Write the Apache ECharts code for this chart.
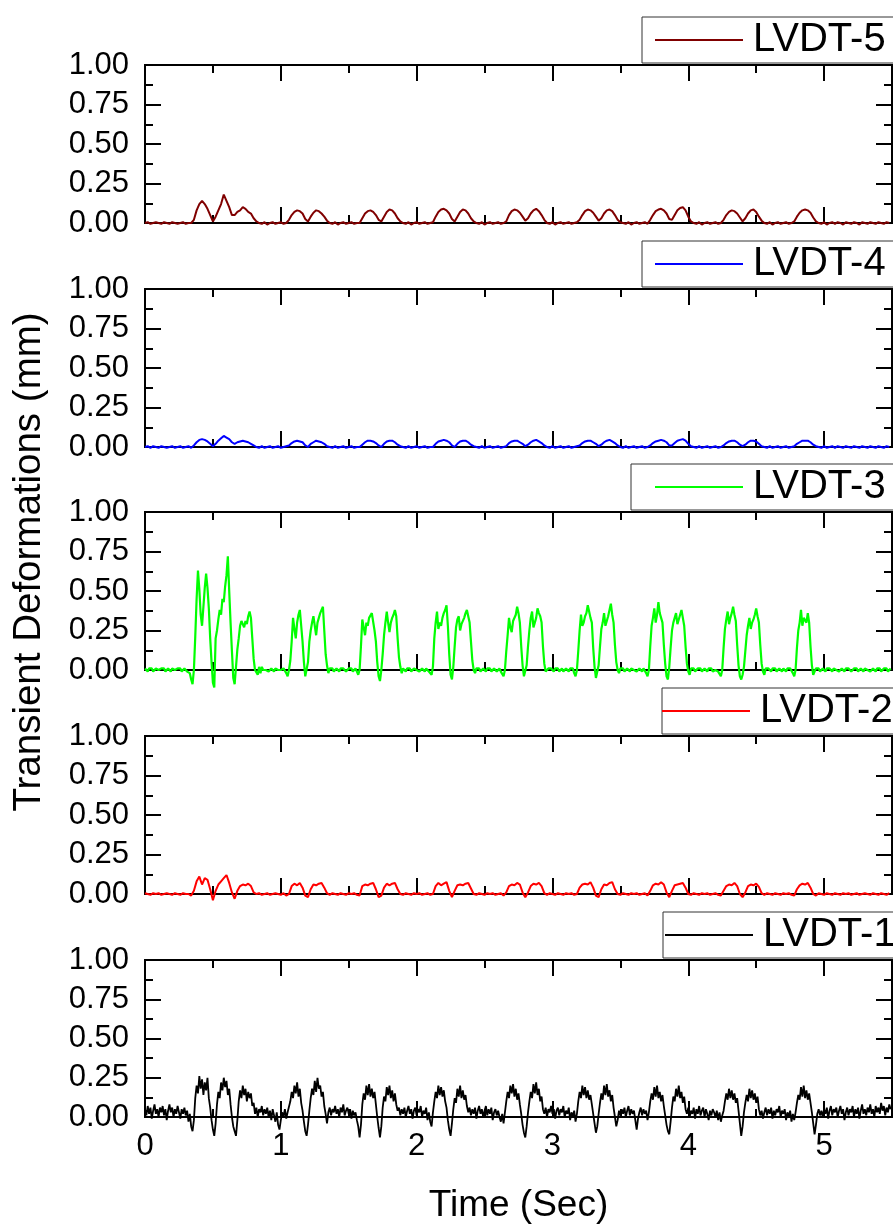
<!DOCTYPE html>
<html>
<head>
<meta charset="utf-8">
<title>Transient Deformations</title>
<script src="https://cdn.jsdelivr.net/npm/echarts@6/dist/echarts.min.js"></script>
<style>
  html, body { margin: 0; padding: 0; background: #fff; }
  #chart { width: 893px; height: 1225px; }
</style>
</head>
<body>
<div id="chart"></div>
<script>
// sampling step (s) of the traced records
const dtFine = 0.01   // LVDT-3, LVDT-1
const dtCoarse = 0.02 // LVDT-5, LVDT-4, LVDT-2

const seriesNames = ['LVDT-5', 'LVDT-4', 'LVDT-3', 'LVDT-2', 'LVDT-1']
const seriesColors = ['#800000', '#0000ff', '#00ff00', '#ff0000', '#000000']
const xMax = 5.5

// LVDT-5 (mm), every 0.02 s
const lvdt5 = [
  0,0.005,-0.005,0,0.005,0,-0.005,0.005,0,-0.005,
  0.005,0,-0.005,0,0.005,-0.005,0,0,0.02,0.08,
  0.12,0.14,0.12,0.09,0.05,0.01,0.04,0.08,0.12,0.18,
  0.14,0.10,0.05,0.05,0.07,0.08,0.10,0.09,0.07,0.06,
  0.03,0.01,0,-0.005,0.005,-0.01,0,0.005,-0.005,0,
  0.005,-0.005,0,0.02,0.05,0.07,0.08,0.075,0.06,0.025,
  0.01,0.04,0.065,0.08,0.075,0.06,0.04,0.015,0,-0.005,
  0.005,-0.01,0,0.005,-0.005,0,0.005,-0.005,0,0,
  0.03,0.06,0.075,0.08,0.07,0.05,0.02,0.01,0.04,0.07,
  0.085,0.08,0.06,0.03,0.01,0,-0.005,0.005,-0.01,0,
  0.005,-0.005,0,0.005,-0.005,0,0.005,0.04,0.07,0.085,
  0.09,0.08,0.06,0.025,0.01,0.04,0.07,0.085,0.08,0.06,
  0.03,0.01,0,-0.005,0.005,-0.01,0,0.005,-0.005,0,
  0.005,-0.005,0,0.01,0.05,0.075,0.085,0.08,0.065,0.04,
  0.015,0.03,0.06,0.08,0.09,0.075,0.05,0.02,0,-0.005,
  0.005,-0.01,0,0.005,-0.005,0,0.005,-0.005,0,0.005,
  0.02,0.05,0.075,0.085,0.08,0.065,0.04,0.015,0.03,0.06,
  0.08,0.085,0.075,0.05,0.02,0.005,0,-0.005,0.005,-0.01,
  0,0.005,-0.005,0,0.005,-0.005,0.02,0.05,0.075,0.085,
  0.09,0.08,0.06,0.025,0.02,0.05,0.08,0.095,0.10,0.08,
  0.04,0.01,0,-0.005,0.005,-0.01,0,0.005,-0.005,0,
  0.005,-0.005,0,0.02,0.05,0.07,0.08,0.075,0.06,0.035,
  0.01,0.03,0.06,0.08,0.085,0.07,0.04,0.015,0,-0.005,
  0.005,-0.01,0,0.005,-0.005,0,0.005,-0.005,0,0.01,
  0.04,0.065,0.08,0.085,0.08,0.065,0.035,0.01,0,-0.005,
  0.005,-0.01,0,0.005,-0.005,0.005,0,-0.01,0.005,0,
  -0.005,0.005,0,-0.01,0.005,0,-0.005,0.005,0,-0.005,
  0.005,0,-0.005,0.005,0
]

// LVDT-4 (mm), every 0.02 s
const lvdt4 = [
  0,0.005,-0.005,0.005,0,-0.005,0.005,0,-0.005,0,
  0.005,-0.005,0,0.005,-0.005,0,0.005,-0.005,0.01,0.03,
  0.045,0.05,0.045,0.035,0.02,0.005,0.02,0.04,0.055,0.07,
  0.06,0.05,0.03,0.02,0.03,0.035,0.04,0.035,0.03,0.02,
  0.01,0,-0.005,0.005,-0.005,0,0.005,-0.005,0,0.005,
  -0.005,0,0.005,0.01,0.025,0.035,0.04,0.035,0.03,0.01,
  0,0.02,0.03,0.04,0.035,0.03,0.02,0.005,0,-0.005,
  0.005,-0.005,0,0.005,-0.005,0,0.005,-0.005,0,0,
  0.015,0.03,0.04,0.04,0.035,0.025,0.01,0,0.02,0.035,
  0.04,0.04,0.03,0.015,0.005,0,-0.005,0.005,-0.005,0,
  0.005,-0.005,0,0.005,-0.005,0,0,0.02,0.035,0.04,
  0.045,0.04,0.03,0.01,0,0.02,0.035,0.04,0.04,0.03,
  0.015,0.005,0,-0.005,0.005,-0.005,0,0.005,-0.005,0,
  0.005,-0.005,0,0.005,0.025,0.035,0.04,0.04,0.03,0.02,
  0.005,0.015,0.03,0.04,0.045,0.035,0.025,0.01,0,-0.005,
  0.005,-0.005,0,0.005,-0.005,0,0.005,-0.005,0,0.005,
  0.01,0.025,0.035,0.04,0.04,0.03,0.02,0.005,0.015,0.03,
  0.04,0.045,0.035,0.025,0.01,0,-0.005,0.005,-0.005,0,
  0.005,-0.005,0,0.005,-0.005,0,0.01,0.025,0.035,0.04,
  0.045,0.04,0.03,0.01,0.01,0.025,0.04,0.045,0.05,0.04,
  0.02,0.005,0,-0.005,0.005,-0.005,0,0.005,-0.005,0,
  0.005,-0.005,0,0.01,0.025,0.035,0.04,0.04,0.03,0.015,
  0.005,0.015,0.03,0.04,0.04,0.035,0.02,0.005,0,-0.005,
  0.005,-0.005,0,0.005,-0.005,0,0.005,-0.005,0,0.005,
  0.02,0.03,0.04,0.04,0.04,0.03,0.015,0.005,0,-0.005,
  0.005,-0.005,0,0.005,-0.005,0.005,0,-0.005,0.005,0,
  -0.005,0.005,0,-0.005,0.005,0,-0.005,0.005,0,-0.005,
  0.005,0,-0.005,0.005,0
]

// LVDT-3 (mm), every 0.01 s
const lvdt3 = [
  0.01,0,-0.01,0.01,0,0.01,-0.01,0,0.01,0,
  0,-0.01,0.01,0,0.01,-0.01,0,0.01,0,-0.01,
  0.01,0,0,-0.01,0.01,0,0.01,-0.01,0,0.01,
  0,-0.01,0,-0.02,-0.06,-0.09,0,0.21,0.45,0.63,
  0.51,0.35,0.28,0.40,0.52,0.61,0.52,0.39,0.20,0.05,
  -0.08,-0.11,0.20,0.25,0.32,0.38,0.35,0.45,0.43,0.53,
  0.60,0.72,0.50,0.30,0.12,-0.05,-0.09,0.02,0.13,0.20,
  0.28,0.31,0.32,0.27,0.31,0.29,0.34,0.37,0.33,0.20,
  0.07,0,0.01,-0.03,0.02,-0.02,0.02,0,0.01,0,
  0.01,-0.01,0,0.01,0,-0.01,0.01,0,0,0.01,
  0,-0.01,0.01,0,-0.02,-0.04,0,0.06,0.18,0.33,
  0.26,0.20,0.30,0.35,0.38,0.28,0.18,0.05,-0.04,-0.05,
  0.05,0.18,0.25,0.30,0.34,0.28,0.22,0.30,0.33,0.36,
  0.36,0.40,0.25,0.10,0.03,-0.02,0.01,0,0.01,-0.01,
  0,0.01,0,-0.01,0.01,0,0.01,0,-0.01,0,
  0.01,0,0.01,-0.01,0,0.01,-0.01,-0.03,0,0.15,
  0.32,0.27,0.22,0.30,0.28,0.33,0.34,0.36,0.37,0.25,
  0.18,0.05,-0.04,-0.07,0,0.10,0.22,0.30,0.37,0.30,
  0.24,0.30,0.33,0.35,0.38,0.34,0.20,0.08,0.02,-0.02,
  0.01,0,-0.01,0.01,0,0.01,-0.01,0,0.01,0,
  0,0.01,-0.01,0,0.01,0,-0.01,0.01,0,-0.01,
  -0.01,-0.03,0.02,0.20,0.30,0.37,0.26,0.30,0.28,0.33,
  0.36,0.38,0.41,0.28,0.10,-0.03,-0.06,0.02,0.15,0.27,
  0.32,0.34,0.25,0.29,0.30,0.33,0.36,0.38,0.34,0.30,
  0.18,0.06,0,-0.02,0.01,0,0.01,-0.01,0,0.01,
  0,-0.01,0.01,0,0.01,-0.01,0,0.01,0,-0.01,
  0,0.01,-0.01,-0.02,-0.04,0,0.12,0.22,0.33,0.27,
  0.24,0.31,0.30,0.35,0.40,0.36,0.30,0.15,0.03,-0.04,
  -0.05,0.03,0.15,0.25,0.33,0.37,0.27,0.30,0.33,0.39,
  0.36,0.34,0.30,0.15,0.04,-0.01,-0.02,0.01,0,0.01,
  0,-0.01,0.01,0,0.01,-0.01,0,0.01,-0.01,0,
  0.01,0,-0.01,0.01,0,0.01,-0.02,-0.04,0,0.12,
  0.25,0.35,0.28,0.30,0.34,0.36,0.41,0.37,0.33,0.30,
  0.14,0.02,-0.05,-0.06,0.03,0.15,0.26,0.30,0.36,0.28,
  0.31,0.34,0.38,0.42,0.35,0.30,0.16,0.05,0,-0.02,
  0.01,0,0.01,-0.01,0,0.01,0,-0.01,0.01,0,
  0,0.01,-0.01,0,0.01,0,-0.01,0.01,0,-0.02,
  -0.04,0,0.15,0.28,0.33,0.39,0.30,0.35,0.43,0.36,
  0.33,0.30,0.16,0.04,-0.04,-0.06,0.02,0.14,0.25,0.30,
  0.33,0.36,0.29,0.32,0.35,0.38,0.33,0.28,0.15,0.04,
  -0.01,-0.03,0.01,0,0.01,-0.01,0,0.01,0,0.01,
  -0.01,0,0.01,0,-0.01,0.01,0,0.01,-0.01,0,
  0,0.01,-0.01,-0.02,-0.04,0,0.14,0.26,0.32,0.37,
  0.29,0.33,0.36,0.40,0.35,0.31,0.16,0.03,-0.04,-0.06,
  -0.03,0.02,0.12,0.22,0.28,0.33,0.26,0.30,0.32,0.35,
  0.39,0.34,0.30,0.16,0.04,-0.01,-0.03,0.01,0,0.01,
  0,-0.01,0.01,0,0.01,-0.01,0,0.01,0,-0.01,
  0.01,0,-0.01,0.01,0,0.01,0,-0.02,-0.04,0,
  0.14,0.25,0.30,0.38,0.28,0.33,0.34,0.30,0.36,0.30,
  0.15,0.03,-0.03,-0.02,0.01,0,0.01,-0.01,0,0.01,
  0,-0.01,0.01,0,0.01,0,-0.01,0.01,0,0,
  0.01,-0.01,0,0.01,0,-0.01,0.01,0,0.01,0,
  -0.01,0,0.01,0,0.01,-0.01,0,0.01,0,-0.01,
  0.01,0,0,0.01,-0.01,0,0.01,0,-0.01,0.01,
  0,0.01,-0.01,0,0.01,0,0.01,-0.01,0,0.01
]

// LVDT-2 (mm), every 0.02 s
const lvdt2 = [
  0.005,0,-0.005,0.005,0,0.005,-0.005,0,0.005,0,
  -0.005,0.005,0,-0.005,0.005,0,0,-0.01,0.02,0.08,
  0.11,0.06,0.10,0.09,0.03,-0.04,0.02,0.06,0.08,0.10,
  0.12,0.07,0.01,-0.03,0.02,0.05,0.06,0.055,0.065,0.05,
  0.01,0,0.005,-0.005,0,0.005,-0.005,0,0.005,0,
  -0.005,0.005,-0.01,0,0.05,0.065,0.055,0.07,0.04,-0.01,
  -0.02,0.03,0.06,0.055,0.065,0.07,0.04,0.005,-0.005,0.005,
  0,-0.005,0.005,0,-0.005,0.005,0,0.005,-0.005,-0.01,
  0.05,0.06,0.055,0.065,0.07,0.03,-0.02,-0.01,0.04,0.065,
  0.055,0.065,0.07,0.03,0,-0.005,0.005,0,-0.005,0.005,
  0,0.005,-0.005,0,0.005,-0.005,0,0.05,0.07,0.055,
  0.065,0.075,0.02,-0.02,0.02,0.055,0.06,0.055,0.065,0.07,
  0.035,0,-0.005,0.005,0,-0.005,0.005,0,0.005,-0.005,
  0,0.005,-0.01,0.01,0.05,0.06,0.055,0.07,0.06,0.01,
  -0.02,0.01,0.05,0.065,0.06,0.07,0.05,0.005,-0.005,0.005,
  0,-0.005,0.005,0,-0.005,0.005,0,0.005,-0.005,0,
  0.04,0.06,0.065,0.06,0.075,0.04,-0.01,-0.02,0.03,0.06,
  0.055,0.07,0.075,0.03,0,-0.005,0.005,0,-0.005,0.005,
  0,0.005,-0.005,0,0.005,-0.01,0.02,0.055,0.065,0.06,
  0.075,0.06,0.01,-0.02,0.02,0.055,0.06,0.065,0.07,0.04,
  0,-0.005,0.005,0,-0.005,0.005,0,0.005,-0.005,0,
  0.005,-0.005,-0.01,0.02,0.05,0.06,0.055,0.07,0.05,0,
  -0.02,0.01,0.05,0.06,0.055,0.065,0.045,0.005,-0.005,0.005,
  0,-0.005,0.005,0,-0.005,0.005,0,0.005,-0.005,-0.01,
  0.03,0.055,0.065,0.06,0.07,0.04,0,-0.01,0.005,0,
  -0.005,0.005,0,-0.005,0.005,0,-0.005,0.005,0,0.005,
  -0.005,0,0.005,-0.005,0,0.005,0,-0.005,0.005,0,
  -0.005,0.005,0,-0.005,0.005
]

// LVDT-1 (mm), every 0.01 s
const lvdt1 = [
  0.05,0.01,0.07,0.02,0.06,-0.01,0.04,0.08,0.02,0.05,
  0,0.06,0.03,0.07,0.01,0.05,-0.02,0.04,0.08,0.03,
  0.06,0,0.05,0.02,0.07,0.03,-0.01,0.05,0.02,0.06,
  0.01,0.04,-0.03,0.02,-0.06,-0.09,-0.02,0.12,0.20,0.15,
  0.26,0.18,0.24,0.14,0.22,0.17,0.25,0.12,0.06,-0.02,
  -0.08,-0.12,-0.04,0.08,0.16,0.12,0.22,0.17,0.25,0.19,
  0.23,0.14,0.18,0.08,0,-0.06,-0.09,-0.12,-0.02,0.10,
  0.17,0.12,0.20,0.14,0.18,0.10,0.16,0.12,0.15,0.07,
  0.09,0.02,0.06,0,0.05,0.03,0.07,0.01,0.05,0.02,
  0.06,0,0.04,-0.02,0.05,0.01,-0.03,0.03,-0.05,-0.08,
  -0.02,0.03,0,0.05,-0.01,0.03,0.02,0.10,0.16,0.12,
  0.20,0.15,0.22,0.13,0.18,0.09,0.04,-0.03,-0.09,-0.12,
  -0.05,0.04,0.12,0.18,0.14,0.23,0.16,0.25,0.18,0.20,
  0.13,0.16,0.07,0.02,-0.04,0.03,0.06,0.01,0.05,0.03,
  0.07,0.02,0.05,0,0.06,0.03,0.08,0.01,0.04,0.06,
  0.02,0.05,-0.01,0.04,0.01,0.03,-0.02,-0.06,-0.13,-0.05,
  0.08,0.15,0.11,0.20,0.14,0.21,0.13,0.18,0.12,0.16,
  0.08,0,-0.07,-0.13,-0.06,0.06,0.13,0.10,0.19,0.14,
  0.20,0.12,0.17,0.10,0.15,0.08,0.04,0.06,0.01,0.05,
  0.02,0.06,0,0.04,0.07,0.02,0.05,-0.01,0.04,0.06,
  0.01,0.05,0.03,0.07,0,0.04,0.02,0.06,-0.02,0.03,
  -0.03,-0.06,0.03,0.10,0.16,0.12,0.20,0.14,0.19,0.13,
  0.17,0.10,0.06,-0.02,-0.08,-0.12,-0.04,0.05,0.12,0.09,
  0.18,0.13,0.20,0.12,0.17,0.11,0.14,0.07,0.03,0.06,
  0.01,0.05,0.02,0.06,-0.01,0.04,0.07,0.02,0.05,0,
  0.04,0.07,0.01,0.05,0.02,0.06,-0.02,0.03,0.05,0.01,
  0.04,0,-0.03,0.02,-0.04,0.03,0.10,0.16,0.12,0.20,
  0.15,0.21,0.13,0.18,0.11,0.15,0.08,0.02,-0.05,-0.10,
  -0.13,-0.06,0.03,0.10,0.16,0.12,0.21,0.15,0.22,0.14,
  0.18,0.10,0.13,0.05,0.02,0.06,0,0.05,0.03,0.07,
  0.02,0.05,-0.01,0.04,0.06,0.01,0.05,0.03,0.07,0,
  0.04,0.02,0.06,-0.02,0.03,0,0.04,-0.03,0.02,0.10,
  0.16,0.12,0.20,0.14,0.19,0.12,0.17,0.11,0.14,0.08,
  0.02,-0.04,-0.10,-0.06,0.02,0.09,0.15,0.11,0.20,0.14,
  0.21,0.13,0.17,0.10,0.14,0.06,0,-0.06,-0.02,0.04,
  0.01,0.05,0.02,0.06,0,0.04,0.07,0.01,0.05,0.02,
  0.04,-0.02,-0.08,-0.01,0.03,0.06,0.01,0.05,0.02,0.04,
  -0.02,0.03,0.10,0.15,0.11,0.19,0.13,0.20,0.12,0.16,
  0.10,0.14,0.07,0.01,-0.05,-0.09,-0.11,-0.03,0.06,0.13,
  0.10,0.18,0.13,0.20,0.12,0.16,0.09,0.13,0.05,0.02,
  0.06,0,0.04,0.02,0.06,-0.01,0.05,0.02,0.07,0.01,
  0.04,0.06,0,0.05,0.02,-0.02,0.04,0.01,0.05,0.03,
  0,0.04,-0.02,0.03,-0.03,0.01,0.04,0.10,0.15,0.11,
  0.18,0.12,0.17,0.11,0.15,0.09,0.12,0.04,-0.04,-0.12,
  -0.06,0.03,0.09,0.14,0.10,0.18,0.12,0.17,0.11,0.15,
  0.09,0.13,0.05,0.01,0.04,-0.01,0.03,0.06,0.01,0.05,
  0.02,0.06,-0.01,0.04,0.01,0.05,0.03,0.07,0,0.04,
  0.02,0.05,-0.02,0.03,0,0.04,-0.03,0.02,-0.02,0.03,
  0.09,0.14,0.11,0.19,0.13,0.20,0.12,0.17,0.11,0.15,
  0.09,0.03,-0.04,-0.11,-0.05,0.02,0.05,0.01,0.04,0,
  0.05,0.02,0.06,-0.01,0.04,0.07,0.01,0.05,0.03,0.06,
  0,0.04,0.07,0.02,0.05,-0.02,0.03,0.06,0.01,0.05,
  0.03,0.07,0,0.05,0.02,0.06,-0.01,0.04,0.08,0.02,
  0.05,0.01,0.06,0.03,0.08,0.02,0.05,0,0.07,0.03,
  0.06,0.02,0.09,0.04,0.07,0.01,0.06,0.03,0.08,0.05
]

const seriesValues = [lvdt5, lvdt4, lvdt3, lvdt2, lvdt1]
const seriesSteps = [dtCoarse, dtCoarse, dtFine, dtCoarse, dtFine]
const seriesWidths = [2, 2, 2.2, 2, 1.8]

// 布局
const panelTops = [65, 289, 512, 736, 960]
const panelHeight = 158
const legendLefts = [642, 642, 631, 662, 663]
const legendPadLeft = [13, 13, 24, 0, 2]
const font = '"Liberation Sans", Arial, sans-serif'

const chart = echarts.init(document.getElementById('chart'))

const axisLine = { onZero: false, lineStyle: { color: '#000', width: 2 } }
const minorTickStyle = { inside: true, length: 8, lineStyle: { color: '#000', width: 2 } }
const majorTickStyle = { inside: true, length: 16, lineStyle: { color: '#000', width: 2 } }

const grids = []
const xAxes = []
const yAxes = []
const series = []
const legends = []

seriesNames.forEach((name, i) => {
  const last = i === seriesNames.length - 1
  grids.push({ left: 145, width: 747, top: panelTops[i], height: panelHeight })

  const xBase = {
    type: 'value', gridIndex: i, min: 0, max: xMax,
    axisLine: axisLine, splitLine: { show: false }, axisLabel: { show: false }
  }
  // minor ticks every 0.5 s, major ticks every 1 s, on both bottom and top
  xAxes.push(Object.assign({}, xBase, { position: 'bottom', interval: 0.5, axisTick: minorTickStyle }))
  xAxes.push(Object.assign({}, xBase, { position: 'top', interval: 0.5, axisTick: minorTickStyle }))
  xAxes.push(Object.assign({}, xBase, {
    position: 'bottom', interval: 1, axisTick: majorTickStyle,
    axisLabel: last
      ? { show: true, fontSize: 31, fontFamily: font, color: '#000', margin: 14, showMaxLabel: false }
      : { show: false },
    name: last ? 'Time (Sec)' : '',
    nameLocation: 'middle',
    nameGap: 70,
    nameTextStyle: { fontSize: 37, fontFamily: font, color: '#000' }
  }))
  xAxes.push(Object.assign({}, xBase, { position: 'top', interval: 1, axisTick: majorTickStyle }))

  const yBase = {
    type: 'value', gridIndex: i, min: 0, max: 1, interval: 0.25,
    axisLine: axisLine, axisTick: majorTickStyle,
    minorTick: { show: true, splitNumber: 2, length: 8, lineStyle: { color: '#000', width: 2 } },
    splitLine: { show: false }, minorSplitLine: { show: false }
  }
  yAxes.push(Object.assign({}, yBase, {
    position: 'left',
    axisLabel: {
      fontSize: 31, fontFamily: font, color: '#000', margin: 16,
      formatter: v => v.toFixed(2)
    }
  }))
  yAxes.push(Object.assign({}, yBase, { position: 'right', axisLabel: { show: false } }))

  const step = seriesSteps[i]
  series.push({
    type: 'line',
    name: name,
    xAxisIndex: 4 * i,
    yAxisIndex: 2 * i,
    data: seriesValues[i].map((v, k) => [+(k * step).toFixed(2), v]),
    symbol: 'none',
    clip: false,
    lineStyle: { color: seriesColors[i], width: seriesWidths[i] },
    itemStyle: { color: seriesColors[i] },
    z: 3
  })

  legends.push({
    data: [name],
    left: legendLefts[i],
    top: panelTops[i] - 48,
    icon: 'rect',
    itemWidth: 88,
    itemHeight: 2,
    padding: [3, 30, 3, legendPadLeft[i]],
    backgroundColor: '#fff',
    borderColor: '#333',
    borderWidth: 1,
    selectedMode: false,
    textStyle: { fontSize: 40, fontFamily: font, color: '#000', lineHeight: 40, padding: [0, 0, 0, 5] },
    z: 10
  })
})

const option = {
  animation: false,
  backgroundColor: '#fff',
  grid: grids,
  xAxis: xAxes,
  yAxis: yAxes,
  series: series,
  legend: legends,
  graphic: [{
    type: 'text',
    x: 29,
    y: 562,
    rotation: Math.PI / 2,
    style: {
      text: 'Transient Deformations (mm)',
      font: '38.5px "Liberation Sans", Arial, sans-serif',
      fill: '#000',
      align: 'center',
      verticalAlign: 'middle',
      textAlign: 'center',
      textVerticalAlign: 'middle'
    }
  }]
}

chart.setOption(option)
</script>
</body>
</html>
